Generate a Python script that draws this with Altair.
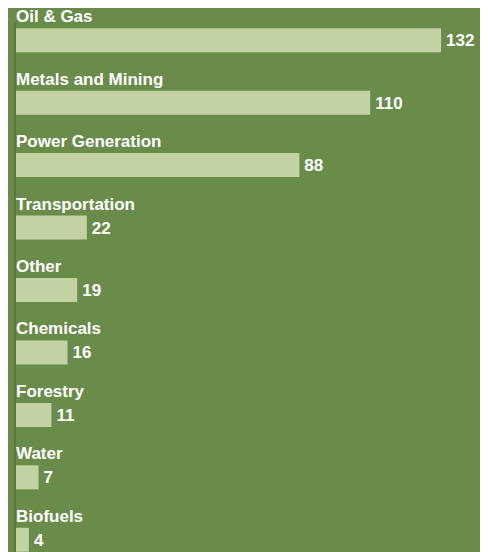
import altair as alt
import pandas as pd

categories = ["Oil & Gas", "Metals and Mining", "Power Generation", "Transportation",
              "Other", "Chemicals", "Forestry", "Water", "Biofuels"]
values = [132, 110, 88, 22, 19, 16, 11, 7, 4]

df = pd.DataFrame({"category": categories, "value": values, "zero": [0] * len(values)})

BG = "#6a8c4a"
BAR = "#c2d2a5"
LINE = "#587b3c"
FONT = "Liberation Sans"

y_scale = alt.Scale(range=[1, 563], paddingInner=0, paddingOuter=0)
x_scale = alt.Scale(domain=[0, 144.1], nice=False, zero=True)

bars = alt.Chart(df).mark_bar(size=24, color=BAR).encode(
    x=alt.X("value:Q", axis=None, scale=x_scale),
    y=alt.Y("category:N", sort=categories, axis=None, scale=y_scale),
)

axis_line = alt.Chart(df).mark_rule(color=LINE, strokeWidth=2, xOffset=-1).encode(
    x=alt.X("zero:Q", axis=None, scale=x_scale),
    y=alt.value(14),
    y2=alt.value(544),
)

cat_labels = alt.Chart(df).mark_text(
    align="left", baseline="alphabetic", dy=-18,
    font=FONT, fontSize=17, fontWeight="bold", color="white"
).encode(
    x=alt.X("zero:Q", axis=None, scale=x_scale),
    y=alt.Y("category:N", sort=categories, axis=None, scale=y_scale),
    text="category:N",
)

val_labels = alt.Chart(df).mark_text(
    align="left", baseline="alphabetic", dy=6, dx=5,
    font=FONT, fontSize=17, fontWeight="bold", color="white"
).encode(
    x=alt.X("value:Q", axis=None, scale=x_scale),
    y=alt.Y("category:N", sort=categories, axis=None, scale=y_scale),
    text="value:Q",
)

chart = alt.layer(bars, axis_line, cat_labels, val_labels).properties(
    width=464, height=544,
    background=BG,
    padding={"left": 8, "top": 0, "right": 0, "bottom": 0},
    autosize=alt.AutoSizeParams(type="none"),
).configure_view(stroke=None)

chart.save("out.html", embed_options={"renderer": "svg", "actions": False})
